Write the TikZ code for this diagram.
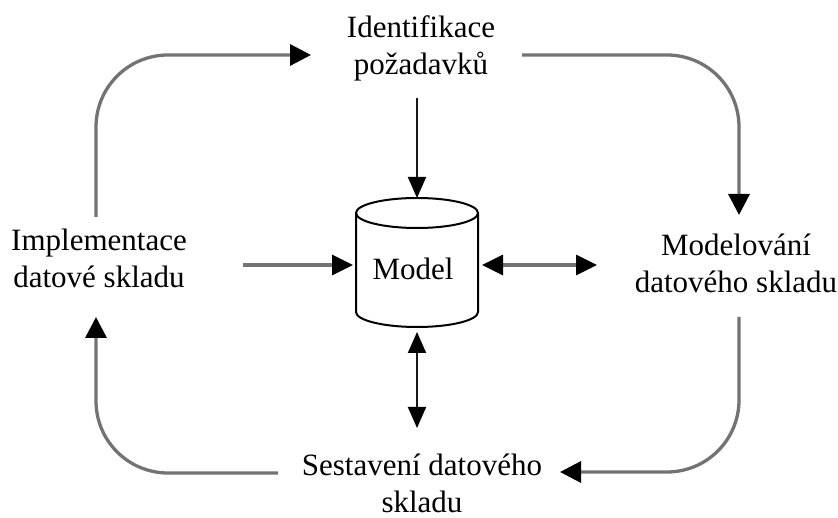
\documentclass[tikz,border=0pt]{standalone}
\usepackage{fontspec}
\setmainfont{Liberation Serif}
\usetikzlibrary{arrows.meta,calc}
\begin{document}
\begin{tikzpicture}[x=1pt,y=-1pt,
  every node/.style={font=\fontsize{31}{37}\selectfont, inner sep=0pt, outer sep=0pt},
  lbl/.style={align=center},
  outer/.style={draw=black!55, line width=3.3pt, rounded corners=72pt, -{Triangle[length=21pt,width=21pt,color=black]}},
  hconn/.style={draw=black!55, line width=3.3pt},
  vconn/.style={draw=black!90, line width=1.9pt},
  cyl/.style={draw=black, line width=2pt}]
\useasboundingbox (0,0) rectangle (838,518);

% labels
\node[lbl] (ident) at (421,48.8) {Identifikace\\požadavků};
\node[lbl] (impl) at (99,258.5) {Implementace\\datové skladu};
\node[lbl] (modl) at (736,263.5) {Modelování\\datového skladu};
\node[lbl] (sest) at (422,483.6) {Sestavení datového\\skladu};

% cylinder
\node[minimum width=122pt, minimum height=129pt] (model) at (417,262.5) {};
\draw[cyl] ([yshift=-15pt]model.north) ellipse [x radius=61pt, y radius=15pt];
\draw[cyl] ([yshift=-15pt]model.north west) -- ([yshift=15pt]model.south west)
  arc[start angle=180, end angle=360, x radius=61pt, y radius=15pt]
  -- ([yshift=-15pt]model.north east);
\node[anchor=base] (modeltxt) at (413,280) {Model};

% loop coordinates
\coordinate (a1s) at (96,217);
\coordinate (a1e) at (311,55);
\coordinate (a2s) at (522,55);
\coordinate (a2e) at (739,215);
\coordinate (a3s) at (739,317);
\coordinate (a3e) at (560,472);
\coordinate (a4s) at (278,473);
\coordinate (a4e) at (96,317);

\draw[outer] (a1s) |- (a1e);
\draw[outer] (a2s) -| (a2e);
\draw[outer] (a3s) |- (a3e);
\draw[outer] (a4s) -| (a4e);

% inner connectors
\coordinate (identbot) at (417,98);
\coordinate (implr) at (243,265);
\coordinate (modr) at (597,265);
\coordinate (modb) at (417,428);

\draw[vconn, -{Triangle[length=21pt,width=18pt,color=black]}] (identbot) -- (model.north);
\draw[hconn, -{Triangle[length=21pt,width=20pt,color=black]}] (implr) -- ([xshift=-3pt]model.west |- implr);
\draw[hconn, {Triangle[length=21pt,width=20pt,color=black]}-{Triangle[length=21pt,width=20pt,color=black]}] ([xshift=4pt]model.east |- modr) -- (modr);
\draw[vconn, {Triangle[length=21pt,width=18pt,color=black]}-{Triangle[length=21pt,width=18pt,color=black]}] ([yshift=-5pt]model.south) -- (modb);
\end{tikzpicture}
\end{document}
